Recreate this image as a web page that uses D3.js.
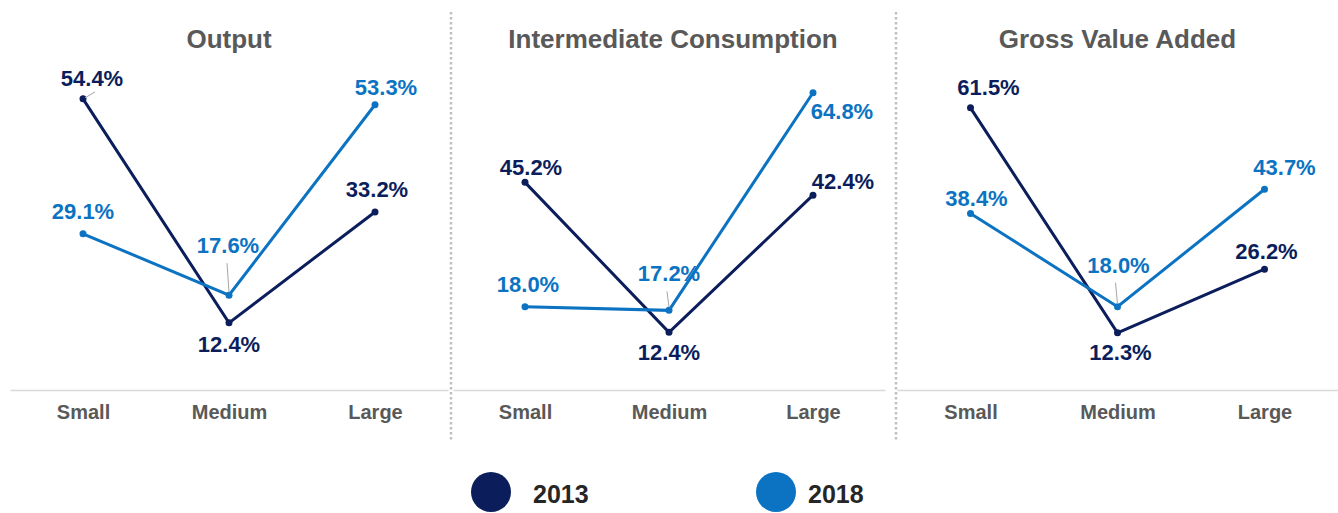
<!DOCTYPE html>
<html>
<head>
<meta charset="utf-8">
<script src="https://cdn.jsdelivr.net/npm/d3@7"></script>
<style>
  html, body { margin: 0; padding: 0; background: #fff; }
  svg { display: block; font-family: "Liberation Sans", Arial, sans-serif; }
</style>
</head>
<body>
<div id="chart"></div>
<script>
const categories = ["Small", "Medium", "Large"];
const panelTitles = ["Output", "Intermediate Consumption", "Gross Value Added"];
const seriesNames = ["2013", "2018"];

const output2013 = [54.4, 12.4, 33.2];
const output2018 = [29.1, 17.6, 53.3];
const intermediate2013 = [45.2, 12.4, 42.4];
const intermediate2018 = [18.0, 17.2, 64.8];
const gva2013 = [61.5, 12.3, 26.2];
const gva2018 = [38.4, 18.0, 43.7];

const yMax = [60, 70, 70];

const width = 1338, height = 513;
const COLORS = { "2013": "#0b1e5b", "2018": "#0b73c2" };

// panel layout (x ranges of the point scale)
const panels = [
    { x0: 10, x1: 448, values: [output2013, output2018] },
    { x0: 453, x1: 885, values: [intermediate2013, intermediate2018] },
    { x0: 897, x1: 1338, values: [gva2013, gva2018] }
];
const dividers = [451, 896];

// label nudges [dx, dy, leader] relative to the point, per panel / series / category
const labelOffsets = [
    [[[9, -13, true], [0, 29], [2, -15]], [[0, -15], [-1, -42, true], [11, -10]]],
    [[[6, -7], [0, 28], [30, -6]], [[3, -15], [0, -29, true], [29, 26]]],
    [[[18, -13], [3, 27], [2, -10]], [[6, -7], [1, -34, true], [20, -14]]]
];

const svg = d3.select("#chart").append("svg")
    .attr("width", width)
    .attr("height", height);

const y0 = 389, yTop = 69;

panels.forEach((p, pi) => {
    const g = svg.append("g").attr("class", `panel-${pi}`);
    const x = d3.scalePoint().domain(categories).range([p.x0, p.x1]).padding(0.5);
    const y = d3.scaleLinear().domain([0, yMax[pi]]).range([y0, yTop]);

    // baseline axis
    const axis = d3.axisBottom(x).tickSize(0).tickPadding(15);
    const axG = g.append("g").attr("transform", `translate(0,${y0 + 1})`).call(axis);
    axG.select(".domain").attr("stroke", "#d9d9d9").attr("stroke-width", 1.5);
    axG.selectAll("text")
        .attr("fill", "#595959")
        .style("font-size", "20px")
        .style("font-weight", "bold")
        .style("font-family", "Liberation Sans, Arial, sans-serif");

    g.append("text")
        .attr("x", (p.x0 + p.x1) / 2 + (pi === 1 ? 4 : 0))
        .attr("y", 48)
        .attr("text-anchor", "middle")
        .attr("fill", "#595959")
        .style("font-size", "26px")
        .style("font-weight", "bold")
        .text(panelTitles[pi]);

    const line = d3.line().x((d, i) => x(categories[i])).y(d => y(d));

    p.values.forEach((vals, si) => {
        const color = COLORS[seriesNames[si]];
        g.append("path")
            .datum(vals)
            .attr("fill", "none")
            .attr("stroke", color)
            .attr("stroke-width", 3)
            .attr("stroke-linejoin", "miter")
            .attr("d", line);

        g.selectAll(`circle.s${si}`)
            .data(vals)
            .enter().append("circle")
            .attr("class", `s${si}`)
            .attr("cx", (d, i) => x(categories[i]))
            .attr("cy", d => y(d))
            .attr("r", 3.5)
            .attr("fill", color);

        vals.forEach((v, i) => {
            const [dx, dy, leader] = labelOffsets[pi][si][i];
            const px = x(categories[i]), py = y(v);
            if (leader) {
                const lx = si === 0 ? px + 12 : px - 2;
                const ly = si === 0 ? py - 7 : py + dy + 10;
                g.append("line")
                    .attr("x1", si === 0 ? px + 2 : px)
                    .attr("y1", si === 0 ? py - 1 : py - 3)
                    .attr("x2", lx)
                    .attr("y2", ly)
                    .attr("stroke", "#a6a6a6")
                    .attr("stroke-width", 1);
            }
            g.append("text")
                .attr("x", px + dx)
                .attr("y", py + dy)
                .attr("text-anchor", "middle")
                .attr("fill", color)
                .style("font-size", "22px")
                .style("font-weight", "bold")
                .text(v.toFixed(1) + "%");
        });
    });
});

// dotted dividers
dividers.forEach(dx => {
    svg.append("line")
        .attr("x1", dx).attr("x2", dx)
        .attr("y1", 12).attr("y2", 440)
        .attr("stroke", "#bfbfbf")
        .attr("stroke-width", 2.5)
        .attr("stroke-dasharray", "2.5,2.5");
});

// legend
const legend = svg.append("g").attr("class", "legend");
const legendX = [491, 776];
const legendTextX = [533, 808];
seriesNames.forEach((name, i) => {
    legend.append("circle")
        .attr("cx", legendX[i])
        .attr("cy", 492)
        .attr("r", 20)
        .attr("fill", COLORS[name]);
    legend.append("text")
        .attr("x", legendTextX[i])
        .attr("y", 503)
        .attr("fill", "#262626")
        .style("font-size", "25px")
        .style("font-weight", "bold")
        .text(name);
});
</script>
</body>
</html>
